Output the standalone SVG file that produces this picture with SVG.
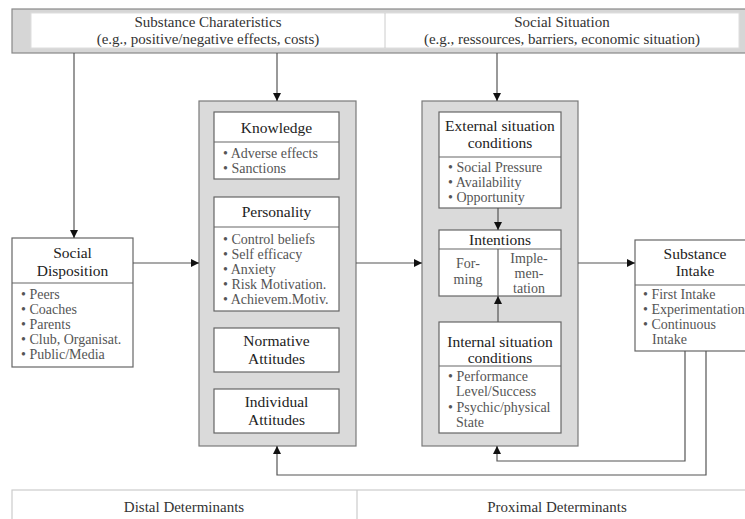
<svg xmlns="http://www.w3.org/2000/svg" width="745" height="519" viewBox="0 0 745 519" font-family="'Liberation Serif', 'DejaVu Serif', 'Times New Roman', serif">
<style>
text{font-family:'Liberation Serif','DejaVu Serif','Times New Roman',serif;}
.h{font-size:15.5px;fill:#222;text-anchor:middle;}
.b{font-size:14px;fill:#555;}
.bn{font-size:15px;fill:#333;text-anchor:middle;}
.box{fill:#fff;stroke:#666;stroke-width:1.2;}
.cont{fill:#dadada;stroke:#7a7a7a;stroke-width:1.2;}
.div{stroke:#666;stroke-width:1.2;}
.c{fill:none;stroke:#555;stroke-width:1.2;}
</style>
<defs>
<marker id="a" viewBox="0 0 10 10" refX="10" refY="5" markerWidth="8" markerHeight="8" markerUnits="userSpaceOnUse" orient="auto">
<path d="M0,0 L10,5 L0,10 z" fill="#111"/>
</marker>
</defs>
<rect width="745" height="519" fill="#fff"/>

<g id="banner">
<rect x="12" y="9" width="740" height="44" fill="#d6d6d6" stroke="#888" stroke-width="1.2"/>
<rect x="31" y="13" width="708" height="35" fill="#fff" stroke="#ddd"/>
<line x1="385" y1="13" x2="385" y2="48" stroke="#ccc"/>
<text class="bn" x="208" y="27" font-size="15.5">Substance Charateristics</text>
<text class="bn" x="208" y="44">(e.g., positive/negative effects, costs)</text>
<text class="bn" x="562" y="27" font-size="15.5">Social Situation</text>
<text class="bn" x="562" y="44">(e.g., ressources, barriers, economic situation)</text>
</g>

<g id="social-disposition">
<rect class="box" x="12" y="238" width="121" height="129"/>
<line class="div" x1="12" y1="283" x2="133" y2="283"/>
<text class="h" x="72.5" y="258">Social</text>
<text class="h" x="72.5" y="276">Disposition</text>
<text class="b" x="21" y="299">• Peers</text>
<text class="b" x="21" y="314">• Coaches</text>
<text class="b" x="21" y="329">• Parents</text>
<text class="b" x="21" y="344">• Club, Organisat.</text>
<text class="b" x="21" y="359">• Public/Media</text>
</g>

<g id="distal">
<rect class="cont" x="199" y="101" width="157" height="345"/>
<g id="knowledge">
<rect class="box" x="214" y="112" width="125" height="67"/>
<line class="div" x1="214" y1="142" x2="339" y2="142"/>
<text class="h" x="276.5" y="133">Knowledge</text>
<text class="b" x="223" y="158">• Adverse effects</text>
<text class="b" x="223" y="173">• Sanctions</text>
</g>
<g id="personality">
<rect class="box" x="214" y="197" width="125" height="114"/>
<line class="div" x1="214" y1="227" x2="339" y2="227"/>
<text class="h" x="276.5" y="217">Personality</text>
<text class="b" x="223" y="244">• Control beliefs</text>
<text class="b" x="223" y="259">• Self efficacy</text>
<text class="b" x="223" y="274">• Anxiety</text>
<text class="b" x="223" y="289">• Risk Motivation.</text>
<text class="b" x="223" y="304">• Achievem.Motiv.</text>
</g>
<g id="normative">
<rect class="box" x="214" y="328" width="125" height="44"/>
<text class="h" x="276.5" y="346">Normative</text>
<text class="h" x="276.5" y="364">Attitudes</text>
</g>
<g id="individual">
<rect class="box" x="214" y="389" width="125" height="44"/>
<text class="h" x="276.5" y="407">Individual</text>
<text class="h" x="276.5" y="425">Attitudes</text>
</g>
</g>

<g id="proximal">
<rect class="cont" x="422" y="101" width="156" height="345"/>
<g id="external">
<rect class="box" x="439" y="112" width="122" height="96"/>
<line class="div" x1="439" y1="157" x2="561" y2="157"/>
<text class="h" x="500" y="131">External situation</text>
<text class="h" x="500" y="148">conditions</text>
<text class="b" x="448" y="172">• Social Pressure</text>
<text class="b" x="448" y="187">• Availability</text>
<text class="b" x="448" y="202">• Opportunity</text>
</g>
<g id="intentions">
<rect class="box" x="439" y="230" width="122" height="66"/>
<line class="div" x1="439" y1="249" x2="561" y2="249"/>
<line class="div" x1="498" y1="249" x2="498" y2="296"/>
<text class="h" x="500" y="245">Intentions</text>
<text class="b" x="468" y="268" text-anchor="middle">For-</text>
<text class="b" x="468" y="284" text-anchor="middle">ming</text>
<text class="b" x="529" y="263" text-anchor="middle">Imple-</text>
<text class="b" x="529" y="278" text-anchor="middle">men-</text>
<text class="b" x="529" y="293" text-anchor="middle">tation</text>
</g>
<g id="internal">
<rect class="box" x="439" y="322" width="122" height="111"/>
<line class="div" x1="439" y1="366" x2="561" y2="366"/>
<text class="h" x="500" y="347">Internal situation</text>
<text class="h" x="500" y="363">conditions</text>
<text class="b" x="448" y="381">• Performance</text>
<text class="b" x="456" y="396">Level/Success</text>
<text class="b" x="448" y="412">• Psychic/physical</text>
<text class="b" x="456" y="427">State</text>
</g>
</g>

<g id="substance-intake">
<rect class="box" x="635" y="240" width="120" height="111"/>
<line class="div" x1="635" y1="285" x2="755" y2="285"/>
<text class="h" x="695" y="259">Substance</text>
<text class="h" x="695" y="276">Intake</text>
<text class="b" x="643" y="299">• First Intake</text>
<text class="b" x="643" y="314">• Experimentation</text>
<text class="b" x="643" y="329">• Continuous</text>
<text class="b" x="652" y="344">Intake</text>
</g>

<g id="connectors">
<path class="c" d="M74,53 V238" marker-end="url(#a)"/>
<path class="c" d="M277,53 V101" marker-end="url(#a)"/>
<path class="c" d="M497,53 V101" marker-end="url(#a)"/>
<path class="c" d="M133,263 H199" marker-end="url(#a)"/>
<path class="c" d="M356,263 H422" marker-end="url(#a)"/>
<path class="c" d="M578,263 H635" marker-end="url(#a)"/>
<path class="c" d="M498,208 V230" marker-end="url(#a)"/>
<path class="c" d="M498,322 V296" marker-end="url(#a)"/>
<path class="c" d="M685,351 V461 H497 V446" marker-end="url(#a)"/>
<path class="c" d="M706,351 V475 H277 V446" marker-end="url(#a)"/>
</g>

<g id="footer">
<rect x="12" y="490" width="745" height="40" fill="#fff" stroke="#ccc" stroke-width="1.2"/>
<line x1="357" y1="490" x2="357" y2="519" stroke="#ccc" stroke-width="1.2"/>
<text class="bn" x="184" y="512" font-size="15.5">Distal Determinants</text>
<text class="bn" x="557" y="512" font-size="15.5">Proximal Determinants</text>
</g>
</svg>
